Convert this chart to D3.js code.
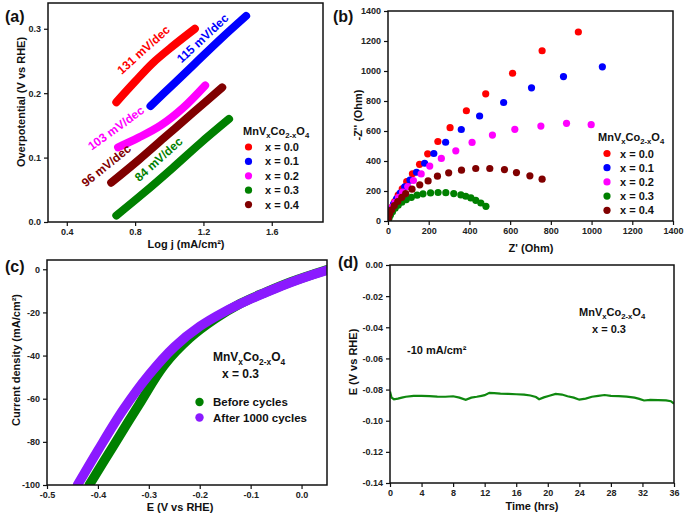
<!DOCTYPE html>
<html>
<head>
<meta charset="utf-8">
<script src="https://cdn.jsdelivr.net/npm/d3@7"></script>
<style>
  body { margin: 0; background: #fff; }
  text { font-family: "Liberation Sans", Arial, sans-serif; font-weight: bold; }
</style>
</head>
<body>
<svg id="fig" width="685" height="520"></svg>
<script>
// ---- data ----
var compositions = ["x = 0.0", "x = 0.1", "x = 0.2", "x = 0.3", "x = 0.4"];
var compColors = ["#ff0000", "#0000ff", "#ff00ff", "#008000", "#800000"];

// (a) Tafel
var tafelSlopes = ["131 mV/dec", "115 mV/dec", "103 mV/dec", "84 mV/dec", "96 mV/dec"];
var tafelLogJ = [
  [0.69, 0.80, 0.90, 1.02, 1.15],
  [0.89, 1.02, 1.15, 1.30, 1.45],
  [0.70, 0.82, 0.95, 1.08, 1.21],
  [0.69, 0.85, 1.02, 1.18, 1.35],
  [0.66, 0.82, 0.98, 1.14, 1.31]
];
var tafelEta = [
  [0.186, 0.218, 0.246, 0.273, 0.300],
  [0.180, 0.213, 0.246, 0.284, 0.320],
  [0.116, 0.131, 0.150, 0.177, 0.212],
  [0.010, 0.045, 0.084, 0.122, 0.160],
  [0.061, 0.096, 0.133, 0.170, 0.209]
];

// (b) Nyquist
var zReal = [
  [3, 10, 20, 33, 50, 70, 92, 120, 155, 195, 245, 305, 385, 480, 612, 757, 935],
  [1, 6, 15, 27, 42, 60, 82, 108, 140, 180, 225, 283, 360, 450, 568, 705, 862, 1053],
  [3, 10, 21, 35, 52, 72, 97, 125, 163, 205, 262, 333, 413, 513, 623, 751, 877, 998],
  [5, 12, 22, 35, 50, 68, 90, 115, 143, 172, 209, 246, 284, 323, 358, 382, 407, 431, 456, 481],
  [2, 8, 18, 31, 48, 68, 87, 118, 156, 197, 243, 298, 361, 431, 500, 572, 631, 697, 757]
];
var zImag = [
  [22, 55, 92, 130, 172, 215, 262, 315, 378, 448, 530, 622, 735, 848, 985, 1135, 1260],
  [15, 45, 78, 112, 148, 186, 228, 273, 325, 385, 450, 525, 610, 700, 790, 888, 963, 1028],
  [30, 62, 93, 125, 158, 192, 230, 270, 314, 366, 417, 468, 524, 573, 611, 633, 651, 642],
  [18, 40, 62, 85, 105, 125, 143, 158, 172, 181, 187, 190, 189, 183, 174, 165, 154, 138, 120, 98],
  [20, 48, 75, 103, 130, 158, 183, 212, 241, 267, 299, 321, 339, 350, 350, 343, 323, 301, 279]
];

// (c) LSV before / after cycling
var lsvNames = ["Before cycles", "After 1000 cycles"];
var lsvColors = ["#008000", "#8b1aff"];
var lsvE = [
  [-0.417, -0.37, -0.32, -0.27, -0.22, -0.17, -0.12, -0.07, -0.02, 0.05],
  [-0.440, -0.40, -0.35, -0.30, -0.25, -0.20, -0.15, -0.10, -0.05, 0.0, 0.05]
];
var lsvJ = [
  [-100, -82, -63, -44.5, -32, -23, -15.9, -10.6, -5.8, -0.2],
  [-100, -84, -65, -49, -36, -26.5, -19.5, -13.8, -8.8, -4.3, -0.5]
];

// (d) chronopotentiometry
var timeHrs = [0, 0.2, 0.5, 1, 1.5, 2, 3, 4, 5, 6, 7, 8, 8.8, 9.6, 10.3, 11, 11.6, 12, 12.6, 13.2,
  14, 15, 16, 17, 17.8, 18.5, 18.9, 19.5, 20.2, 21, 21.8, 22.5, 23.3, 24, 24.8, 25.6, 26.4, 27.2,
  28, 29, 30, 31, 31.6, 32.2, 33, 34, 35, 35.6, 36];
var potential = [-0.0813, -0.0852, -0.0862, -0.0858, -0.0852, -0.0846, -0.0840, -0.0840, -0.0842,
  -0.0845, -0.0846, -0.0843, -0.0852, -0.0866, -0.0852, -0.0846, -0.0840, -0.0836, -0.0821, -0.0823,
  -0.0826, -0.0828, -0.0830, -0.0832, -0.0838, -0.0848, -0.0862, -0.0850, -0.0840, -0.0828, -0.0832,
  -0.0843, -0.0852, -0.0865, -0.0858, -0.0846, -0.0840, -0.0835, -0.0840, -0.0842, -0.0845, -0.0852,
  -0.0860, -0.0870, -0.0866, -0.0868, -0.0870, -0.0875, -0.0891];

// ---- drawing ----
var svg = d3.select("#fig");

function panel(id, box, xDom, yDom, xTicks, yTicks, xFmt, yFmt) {
  var x = d3.scaleLinear().domain(xDom).range([box.l, box.r]);
  var y = d3.scaleLinear().domain(yDom).range([box.b, box.t]);
  svg.append("clipPath").attr("id", id)
    .append("rect").attr("x", box.l).attr("y", box.t)
    .attr("width", box.r - box.l).attr("height", box.b - box.t);

  var gx = svg.append("g").attr("transform", "translate(0," + box.b + ")")
    .call(d3.axisBottom(x).tickValues(xTicks).tickFormat(xFmt).tickSize(4).tickSizeOuter(0).tickPadding(3));
  var gy = svg.append("g").attr("transform", "translate(" + box.l + ",0)")
    .call(d3.axisLeft(y).tickValues(yTicks).tickFormat(yFmt).tickSize(4).tickSizeOuter(0).tickPadding(3));
  [gx, gy].forEach(function(g) {
    g.select(".domain").remove();
    g.selectAll("line").attr("stroke", "#111").attr("stroke-width", 1.2);
    g.selectAll("text").attr("font-size", 9).attr("fill", "#222")
      .attr("font-family", "'Liberation Sans', Arial, sans-serif").attr("font-weight", "bold");
  });

  var plot = svg.append("g").attr("clip-path", "url(#" + id + ")");
  svg.append("rect").attr("x", box.l).attr("y", box.t)
    .attr("width", box.r - box.l).attr("height", box.b - box.t)
    .attr("fill", "none").attr("stroke", "#111").attr("stroke-width", 1.5);
  return { x: x, y: y, plot: plot };
}

function label(txt, x, y, size, opts) {
  opts = opts || {};
  var t = svg.append("text").attr("x", x).attr("y", y).attr("font-size", size)
    .attr("fill", opts.fill || "#111").attr("text-anchor", opts.anchor || "start").text(txt);
  if (opts.rotate) t.attr("transform", "rotate(" + opts.rotate + "," + x + "," + y + ")");
  return t;
}

function formula(x, y, size, anchor) {
  var t = svg.append("text").attr("x", x).attr("y", y).attr("font-size", size)
    .attr("fill", "#111").attr("text-anchor", anchor || "start");
  var parts = [["MnV", 0], ["x", 1], ["Co", 0], ["2-x", 1], ["O", 0], ["4", 1]];
  var shift = 0;
  parts.forEach(function(p) {
    var dy = p[1] ? size * 0.3 - shift : -shift;
    shift = p[1] ? size * 0.3 : 0;
    t.append("tspan").attr("dy", dy).attr("font-size", p[1] ? size * 0.7 : size).text(p[0]);
  });
  return t;
}

var f1 = function(d) { return d.toFixed(1); };
var f2 = function(d) { return d.toFixed(2); };
var f0 = function(d) { return String(d); };

// (a)
var A = panel("clipA", { l: 48, t: 3, r: 323, b: 222 }, [0.29, 1.9], [0, 0.34],
  [0.4, 0.8, 1.2, 1.6], [0, 0.1, 0.2, 0.3], f1, f1);
var lineA = d3.line().x(function(d) { return A.x(d[0]); }).y(function(d) { return A.y(d[1]); })
  .curve(d3.curveCatmullRom);
[0, 1, 2, 4, 3].forEach(function(i) {
  var pts = d3.zip(tafelLogJ[i], tafelEta[i]);
  A.plot.append("path").attr("d", lineA(pts)).attr("fill", "none")
    .attr("stroke", compColors[i]).attr("stroke-width", 8).attr("stroke-linecap", "round");
});
var slopePos = [[0.868, 0.261, -42], [1.215, 0.279, -43], [0.702, 0.139, -36], [0.956, 0.091, -42], [0.647, 0.081, -39]];
tafelSlopes.forEach(function(s, i) {
  var a = slopePos[i][2] * Math.PI / 180, off = 4, along = 3;
  var px = A.x(slopePos[i][0]) + Math.sin(a) * off + Math.cos(a) * along;
  var py = A.y(slopePos[i][1]) - Math.cos(a) * off + Math.sin(a) * along + 4;
  label(s, px, py, 12, { fill: compColors[i], anchor: "middle", rotate: slopePos[i][2] });
});
formula(243, 135, 11);
compositions.forEach(function(c, i) {
  var cy = 147 + i * 14.4;
  svg.append("circle").attr("cx", 248.5).attr("cy", cy).attr("r", 3.6).attr("fill", compColors[i]);
  label(c, 265, cy + 4, 11);
});
label("Overpotential (V vs RHE)", 25, 102, 11, { anchor: "middle", rotate: -90 });
label("Log j (mA/cm²)", 186, 248, 11, { anchor: "middle" });
label("(a)", 5, 22, 16);

// (b)
var B = panel("clipB", { l: 388, t: 11, r: 673, b: 221 }, [0, 1400], [0, 1400],
  d3.range(0, 1401, 200), d3.range(0, 1401, 200), f0, f0);
[0, 1, 2, 3, 4].forEach(function(i) {
  B.plot.selectAll(null).data(d3.zip(zReal[i], zImag[i])).enter().append("circle")
    .attr("cx", function(d) { return B.x(d[0]); })
    .attr("cy", function(d) { return B.y(d[1]); })
    .attr("r", 3.6).attr("fill", compColors[i]);
});
formula(598, 141, 11);
compositions.forEach(function(c, i) {
  var cy = 153.5 + i * 14.2;
  svg.append("circle").attr("cx", 607).attr("cy", cy).attr("r", 3.6).attr("fill", compColors[i]);
  label(c, 620, cy + 4, 11);
});
label("-Z'' (Ohm)", 362, 115, 11, { anchor: "middle", rotate: -90 });
label("Z' (Ohm)", 531, 252, 11, { anchor: "middle" });
label("(b)", 333, 22, 16);

// (c)
var C = panel("clipC", { l: 47, t: 260, r: 327, b: 485 }, [-0.5, 0.05], [-100, 4.3],
  [-0.5, -0.4, -0.3, -0.2, -0.1, 0.0], [0, -20, -40, -60, -80, -100], f1, f0);
var lineC = d3.line().x(function(d) { return C.x(d[0]); }).y(function(d) { return C.y(d[1]); })
  .curve(d3.curveCatmullRom);
[0, 1].forEach(function(i) {
  C.plot.append("path").attr("d", lineC(d3.zip(lsvE[i], lsvJ[i]))).attr("fill", "none")
    .attr("stroke", lsvColors[i]).attr("stroke-width", 9.5).attr("stroke-linecap", "round");
});
formula(213, 361, 12);
label("x = 0.3", 222, 378, 12);
lsvNames.forEach(function(n, i) {
  var cy = 402 + i * 15.5;
  svg.append("circle").attr("cx", 199.5).attr("cy", cy).attr("r", 4.2).attr("fill", lsvColors[i]);
  label(n, 213, cy + 4, 11.5);
});
label("Current density (mA/cm²)", 20, 360, 11, { anchor: "middle", rotate: -90 });
label("E (V vs RHE)", 180, 511, 11, { anchor: "middle" });
label("(c)", 5, 272, 16);

// (d)
var D = panel("clipD", { l: 390, t: 265, r: 674, b: 483 }, [0, 36], [-0.14, 0],
  d3.range(0, 37, 4), [0, -0.02, -0.04, -0.06, -0.08, -0.10, -0.12, -0.14], f0, f2);
var lineD = d3.line().x(function(d) { return D.x(d[0]); }).y(function(d) { return D.y(d[1]); });
D.plot.append("path").attr("d", lineD(d3.zip(timeHrs, potential))).attr("fill", "none")
  .attr("stroke", "#0f880f").attr("stroke-width", 2.2);
formula(579, 316, 11);
label("x = 0.3", 592, 333, 11);
label("-10 mA/cm²", 407, 354, 11);
label("E (V vs RHE)", 357, 362, 11, { anchor: "middle", rotate: -90 });
label("Time (hrs)", 532, 510, 11, { anchor: "middle" });
label("(d)", 338, 268, 16);
</script>
</body>
</html>
